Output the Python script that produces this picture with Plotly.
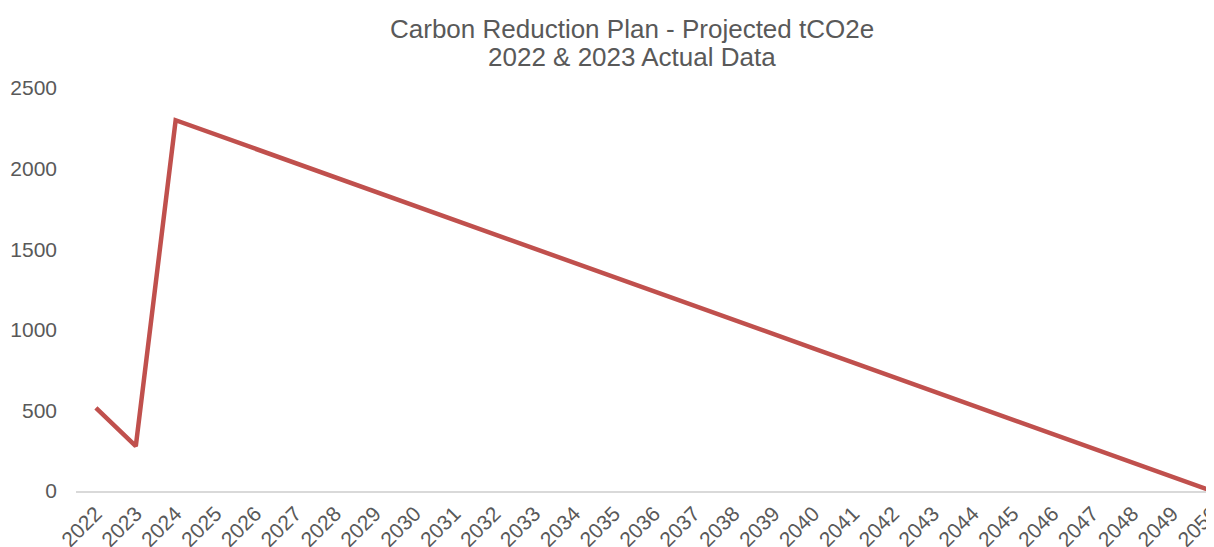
import plotly.graph_objects as go

years = [str(y) for y in range(2022, 2051)]
emissions = [515, 278, 2300, 2212, 2123, 2035, 1946, 1858, 1769, 1681, 1592, 1504,
             1415, 1327, 1238, 1150, 1062, 973, 885, 796, 708, 619, 531, 442,
             354, 265, 177, 88, 0]
y_ticks = [0, 500, 1000, 1500, 2000, 2500]
title_lines = ["Carbon Reduction Plan - Projected tCO2e", "2022 & 2023 Actual Data"]

fig = go.Figure(go.Scatter(
    x=years, y=emissions, mode="lines",
    line=dict(color="#c0504d", width=4.5),
    hoverinfo="x+y",
))

font = "Liberation Sans, Arial, sans-serif"
# page has an 8px body margin; figure is sized/offset to compensate
W, H = 1206, 539
L, T, B = 68, 80, 56
plot_h = H - T - B
plot_w = W - L

def paper_y(page_y):
    return 1 + (T - (page_y - 8)) / plot_h

def paper_x(page_x):
    return (page_x - 8 - L) / plot_w

annotations = []
for text, py in zip(title_lines, [29.5, 57.5]):
    annotations.append(dict(
        text=text, x=paper_x(631.5), y=paper_y(py), xref="paper", yref="paper",
        xanchor="center", yanchor="middle", showarrow=False,
        font=dict(family=font, size=26, color="#595959"),
    ))

fig.update_layout(
    width=W, height=H,
    paper_bgcolor="white", plot_bgcolor="white",
    margin=dict(l=L, r=0, t=T, b=B, autoexpand=False),
    showlegend=False,
    font=dict(family=font, color="#595959", size=21),
    annotations=annotations,
)
fig.update_xaxes(
    type="category", range=[-0.5, 28.05],
    showgrid=False, showline=True, linecolor="#d9d9d9", linewidth=2,
    tickangle=-45, ticks="", tickfont=dict(size=21, color="#595959"),
    zeroline=False, automargin=False,
)
fig.update_yaxes(
    range=[0, 2500], tickvals=y_ticks, showgrid=False, zeroline=False,
    showline=False, ticks="", ticklabelstandoff=18, automargin=False,
    tickfont=dict(size=21, color="#595959"),
)

fig.write_html("out.html", post_script="document.documentElement.style.overflow='hidden';document.body.style.overflow='hidden';")
